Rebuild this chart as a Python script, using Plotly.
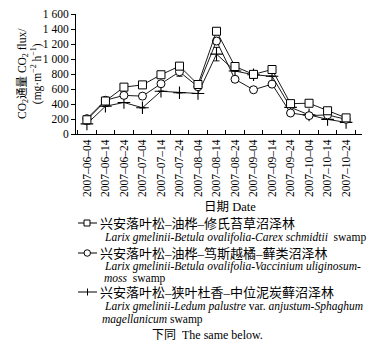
import plotly.graph_objects as go

dates = ["2007–06–04", "2007–06–14", "2007–06–24", "2007–07–04", "2007–07–14",
         "2007–07–24", "2007–08–04", "2007–08–14", "2007–08–24", "2007–09–04",
         "2007–09–14", "2007–09–24", "2007–10–04", "2007–10–14", "2007–10–24"]
carex = [190, 440, 625, 655, 790, 905, 660, 1370, 900, 795, 860, 405, 410, 310, 215]
moss = [205, 450, 515, 505, 670, 830, 630, 1240, 730, 590, 665, 280, 245, 255, 195]
sphag = [135, 370, 420, 350, 570, 550, 540, 1065, 840, 790, 770, 355, 255, 195, 155]
moss_err = [0, 0, 0, 30, 0, 60, 0, 40, 0, 20, 30, 0, 0, 0, 0]
sphag_err = [0, 0, 0, 0, 0, 0, 0, 90, 0, 50, 0, 0, 0, 0, 0]
ytickvals = [0, 200, 400, 600, 800, 1000, 1200, 1400, 1600]
yticktext = ["0", "200", "400", "600", "800", "1 000", "1 200", "1 400", "1 600"]

FONT = "'Liberation Serif', 'Noto Sans CJK SC', serif"

W, H = 386, 346
L, R, T, B = 76, 24, 14, 212
PW, PH = W - L - R, H - T - B


def xp(px):
    return (px - L) / PW


def yp(py):
    return (T + PH - py) / PH


fig = go.Figure()
line = dict(color="black", width=0.9)
fig.add_trace(go.Scatter(x=dates, y=sphag, mode="lines+markers", line=line,
                         marker=dict(symbol="cross-thin", size=9, line=dict(color="black", width=1.1)),
                         error_y=dict(type="data", array=sphag_err, color="black", thickness=0.9, width=3),
                         showlegend=False))
fig.add_trace(go.Scatter(x=dates, y=moss, mode="lines+markers", line=line,
                         marker=dict(symbol="circle", size=8, color="white", line=dict(color="black", width=1)),
                         error_y=dict(type="data", array=moss_err, color="black", thickness=0.9, width=3),
                         showlegend=False))
fig.add_trace(go.Scatter(x=dates, y=carex, mode="lines+markers", line=line,
                         marker=dict(symbol="square", size=8, color="white", line=dict(color="black", width=1)),
                         showlegend=False))

fig.update_layout(
    template="none",
    width=W, height=H, margin=dict(l=L, r=R, t=T, b=B, autoexpand=False),
    paper_bgcolor="white", plot_bgcolor="white",
    font=dict(family=FONT, size=11, color="black"),
    xaxis=dict(type="category", range=[-0.59, 14.86], showline=True, linecolor="black", linewidth=1,
               ticks="inside", tickson="boundaries", ticklen=4, tickcolor="black", tickangle=-90,
               showgrid=False, zeroline=False, automargin=False, tickfont=dict(family=FONT, size=11.5)),
    yaxis=dict(range=[0, 1600], showline=True, linecolor="black", linewidth=1,
               ticks="outside", ticklen=4, tickcolor="black", tickvals=ytickvals, ticktext=yticktext,
               showgrid=False, zeroline=False, automargin=False, tickfont=dict(family=FONT, size=11.5)),
)

ann = []


def text(t, px, py, size=11, xanchor="left", family=FONT, angle=0):
    ann.append(dict(text=t, x=xp(px), y=yp(py), xref="paper", yref="paper", showarrow=False,
                    xanchor=xanchor, yanchor="middle", textangle=angle,
                    font=dict(family=family, size=size, color="black")))


text("CO<sub>2</sub>通量 CO<sub>2</sub> flux/<br>(mg·m<sup>−2</sup> h<sup>−1</sup>)", 30, 74, size=11.5,
     xanchor="center", angle=-90)
text("日期 Date", 230, 207, size=12.5, xanchor="center")
text("兴安落叶松–油桦–修氏苔草沼泽林", 98, 223, size=13)
text("<i>Larix gmelinii-Betula ovalifolia-Carex schmidtii</i>  swamp", 102, 237, size=11.5)
text("兴安落叶松–油桦–笃斯越橘–藓类沼泽林", 98, 253, size=13)
text("<i>Larix gmelinii-Betula ovalifolia-Vaccinium uliginosum-</i>", 102, 266, size=11.5)
text("<i>moss</i>  swamp", 102, 278, size=11.5)
text("兴安落叶松–狭叶杜香–中位泥炭藓沼泽林", 98, 292, size=13)
text("<i>Larix gmelinii-Ledum palustre</i> var. <i>anjustum-Sphaghum</i>", 102, 306, size=11.5)
text("<i>magellanicum</i> swamp", 100, 319, size=11.5)
text("下同  The same below.", 207, 335, size=12, xanchor="center")

shapes = []


def seg(x0, y0, x1, y1):
    shapes.append(dict(type="line", xref="paper", yref="paper", x0=xp(x0), y0=yp(y0), x1=xp(x1), y1=yp(y1),
                       line=dict(color="black", width=1)))


# legend symbols
seg(78, 223, 97, 223)
shapes.append(dict(type="rect", xref="paper", yref="paper", x0=xp(84), x1=xp(90), y0=yp(220), y1=yp(226),
                   line=dict(color="black", width=1), fillcolor="white"))
seg(78, 253, 97, 253)
shapes.append(dict(type="circle", xref="paper", yref="paper", x0=xp(84), x1=xp(90.5), y0=yp(249.75), y1=yp(256.25),
                   line=dict(color="black", width=1), fillcolor="white"))
seg(78, 292, 97, 292)
seg(87.5, 288.5, 87.5, 295.5)

fig.update_layout(annotations=ann, shapes=shapes)
fig.write_html("out.html", config={"displayModeBar": False},
               post_script="document.body.style.margin='0';document.body.style.overflow='hidden';")
